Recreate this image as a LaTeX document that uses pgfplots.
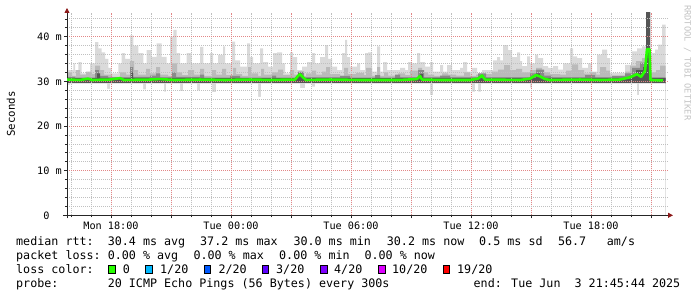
\documentclass[border=0pt]{standalone}
\usepackage{pgfplots}
\pgfplotsset{compat=1.18}
\usepackage{fontspec}
\setmainfont{DejaVu Sans Mono}
\usetikzlibrary{arrows.meta}

\definecolor{smokeA}{RGB}{218,218,218}
\definecolor{smokeB}{RGB}{186,186,186}
\definecolor{smokeC}{RGB}{138,138,138}
\definecolor{smokeD}{RGB}{85,85,85}
\definecolor{medgreen}{HTML}{26FF00}
\definecolor{l1}{HTML}{00B8FF}
\definecolor{l2}{HTML}{0059FF}
\definecolor{l3}{HTML}{5E00FF}
\definecolor{l4}{HTML}{7E00FF}
\definecolor{l10}{HTML}{DD00FF}
\definecolor{l19}{HTML}{FF0000}
\definecolor{mgrid}{RGB}{226,135,135}
\definecolor{ngrid}{RGB}{192,192,192}
\definecolor{arrowred}{RGB}{140,25,25}
\definecolor{wmark}{RGB}{195,195,195}

\newcommand\legfont{\fontsize{11.7bp}{14bp}\selectfont}
\newcommand\axfont{\fontsize{10.2bp}{12bp}\selectfont}

\begin{document}
\begin{tikzpicture}
\path[use as bounding box] (0bp,0bp) rectangle (697bp,-297bp);

\pgfplotsset{
  rrdbase/.style={
    at={(67bp,-215.3bp)}, anchor=south west,
    scale only axis, width=601bp, height=202.3bp,
    xmin=15.8, xmax=45.85, ymin=0, ymax=45.3,
  }
}

\begin{axis}[
  rrdbase,
  axis on top,
  axis x line=bottom, axis y line=left,
  axis line style={draw=black!85, line width=0.8bp},
  x axis line style={-{Triangle[length=5bp,width=5bp,color=arrowred]}, shorten >=-5bp, shorten <=-4bp},
  y axis line style={-{Triangle[length=5bp,width=5bp,color=arrowred]}, shorten >=-5bp, shorten <=-3bp},
  xtick={18,21,24,27,30,33,36,39,42,45},
  xticklabels={Mon 18:00,,Tue 00:00,,Tue 06:00,,Tue 12:00,,Tue 18:00,},
  minor xtick={16,17,...,45},
  ytick={0,10,20,30,40},
  yticklabels={0\hphantom{xx},10 m,20 m,30 m,40 m},
  minor ytick={2,4,...,44},
  grid=both,
  major grid style={draw=mgrid, dash pattern=on 1bp off 1bp, line width=0.65bp},
  minor grid style={draw=ngrid, dash pattern=on 1bp off 1bp, line width=0.65bp},
  tick align=outside,
  major tick length=3bp, minor tick length=2bp,
  tick style={draw=black!85, line width=0.6bp},
  xticklabel style={font=\axfont, inner sep=0pt, anchor=north, yshift=-3bp},
  yticklabel style={font=\axfont, inner sep=0pt, anchor=east, xshift=-2bp},
  /pgf/number format/assume math mode=true,
]
% light smoke: upper envelope (max of pings)
\addplot[const plot, fill=smokeA, draw=none] coordinates {
(15.8,36.3) (15.865,32.5) (16.115,34) (16.2,32.5) (16.365,34.3) (16.535,31.8)
(16.95,34) (17.2,38.8) (17.365,37.4) (17.535,36.5) (17.7,35) (17.865,33)
(18.035,31.8) (18.365,34) (18.535,36.3) (18.7,35) (18.95,40.3) (19.115,38)
(19.365,36.3) (19.615,34) (19.785,37) (20.035,35.5) (20.285,38.5) (20.535,35.5)
(20.785,34) (20.95,40) (21.115,41.5) (21.285,36.3) (21.45,34) (21.785,36.3)
(22.035,34) (22.45,37.7) (22.615,34) (22.95,36.3) (23.1,34) (23.35,35.9)
(23.6,37.8) (23.7,34) (24.05,38.9) (24.2,34.7) (24.45,33.3) (24.8,38.5)
(24.95,35.4) (25.1,34) (25.45,37.4) (25.6,34.3) (25.85,33.3) (26.1,36.3)
(26.3,36.5) (26.55,34) (26.7,31.8) (26.95,36.5) (27.1,35.4) (27.3,32.5)
(27.55,33.3) (27.8,34.3) (28.05,36.3) (28.2,34) (28.45,35.4) (28.7,38.1)
(28.85,35) (29.05,33.3) (29.3,32.5) (29.55,36.3) (29.7,39.3) (29.8,35.4)
(29.95,33.3) (30.3,34) (30.45,32.5) (30.7,36.3) (30.85,36.5) (31.05,32.2)
(31.3,37.8) (31.45,32.2) (31.6,34.3) (31.8,32.5) (32.45,33) (32.7,32.5)
(32.85,34.3) (33.05,34) (33.3,36.3) (33.45,34.3) (33.7,33.3) (33.95,34.3)
(34.1,32.2) (34.45,33.6) (34.6,32.2) (34.8,33.6) (35.05,32.5) (35.45,33)
(35.6,34.3) (35.8,32.2) (36.05,33) (36.3,31.8) (36.55,32.5) (37.1,34.7)
(37.3,35.4) (37.45,34.7) (37.6,38.1) (37.85,37) (38.05,35.4) (38.3,36.5)
(38.45,34.5) (38.55,33.4) (38.8,35.6) (38.95,34) (39.2,36) (39.35,35.2)
(39.6,33.4) (39.85,33) (40.1,33.4) (40.35,32.6) (40.6,34) (40.95,37.4)
(41.1,35.6) (41.3,35.2) (41.55,33) (41.85,34) (42.05,32.2) (42.3,36)
(42.55,37.1) (42.8,35.2) (42.95,31.9) (43.7,33.7) (44.05,36.7) (44.3,37.4)
(44.55,37.8) (44.75,45.5) (44.95,36.3) (45.2,37.1) (45.35,38.2) (45.55,42.7)
(45.73,42.7)
} \closedcycle;
% medium smoke
\addplot[const plot, fill=smokeB, draw=none] coordinates {
(15.8,32.0) (16.05,31.2) (16.25,32.5) (16.45,31.5) (16.75,32.2) (17.05,31.6)
(17.2,33.5) (17.45,32.5) (17.65,31.5) (18.05,31.0) (18.45,32) (18.75,31.5)
(18.95,34.5) (19.15,32.5) (19.35,31.5) (19.75,32.8) (19.95,31.8) (20.25,33.2)
(20.45,31.5) (20.85,31.2) (21.05,34) (21.3,32) (21.55,31.4) (21.85,32.5)
(22.15,31.5) (22.45,32.8) (22.65,31.2) (23.05,32.5) (23.25,31.5) (23.55,32.8)
(23.75,31.4) (24.1,33) (24.25,31.6) (24.55,31.2) (24.85,33.2) (25.0,31.8)
(25.35,31.2) (25.5,32.8) (25.65,31.5) (26.05,32) (26.35,32.6) (26.6,31.4)
(26.95,32.5) (27.15,31.5) (27.45,31.2) (27.75,31.8) (28.05,32.4) (28.25,31.5)
(28.55,32.2) (28.75,33.2) (28.95,31.6) (29.45,31.3) (29.65,33) (29.85,31.6)
(30.25,31.9) (30.65,31.4) (30.75,33) (31.05,31.2) (31.3,33.2) (31.45,31.2)
(31.65,32) (31.85,31.3) (32.35,31.8) (32.7,31.4) (32.95,32.4) (33.35,33)
(33.55,32) (33.85,31.5) (34.15,31.2) (34.55,31.8) (34.85,31.5) (35.25,31.3)
(35.65,32) (35.95,31.2) (36.25,31.5) (36.65,31.6) (37.05,32.2) (37.35,32.6)
(37.65,33.6) (37.95,32.5) (38.25,32.8) (38.55,32) (38.95,32.5) (39.25,33)
(39.55,32) (39.95,31.6) (40.45,31.5) (40.75,32.4) (41.05,33.8) (41.35,32.5)
(41.65,31.7) (41.95,32) (42.25,31.5) (42.45,33.2) (42.75,32.4) (42.95,31.3)
(43.7,32.2) (43.95,33.5) (44.25,34.5) (44.55,35.2) (44.75,45.5) (44.95,32)
(45.25,32.5) (45.45,33.5) (45.73,33.5)
} \closedcycle;
% dark smoke
\addplot[const plot, fill=smokeC, draw=none] coordinates {
(15.8,31.0) (16.2,30.8) (17.2,32.5) (17.4,31.2) (17.85,30.9) (18.95,33.2)
(19.1,31.0) (19.95,31.3) (20.25,31.8) (20.45,30.9) (21.05,32) (21.25,31)
(22.45,31.5) (22.65,30.8) (23.95,31.2) (24.45,30.8) (26.05,31.3) (26.25,30.8)
(27.35,32.2) (27.65,30.9) (29.45,31.2) (29.95,30.8) (31.2,31.4) (31.45,30.8)
(32.2,31.5) (32.45,30.9) (33.35,32.5) (33.65,30.9) (34.45,31.3) (34.95,30.9)
(36.35,31.8) (36.75,30.9) (38.95,31.8) (39.25,32.6) (39.65,31.3) (40.05,30.9)
(41.7,31.4) (42.2,30.9) (43.05,31.2) (43.7,31.8) (44.05,33) (44.45,34.2)
(44.75,45.5) (44.95,30.9) (45.73,30.9)
} \closedcycle;
% darkest smoke
\addplot[const plot, fill=smokeD, draw=none] coordinates {
(15.8,30.8) (17.3,31.8) (17.45,30.8) (19.0,32.0) (19.1,30.8) (27.35,31.8)
(27.55,30.8) (33.45,31.6) (33.6,30.8) (39.25,31.8) (39.45,30.8) (43.95,31.2)
(44.25,32.5) (44.6,33.2) (44.75,45.5) (44.95,30.7) (45.73,30.7)
} \closedcycle;
% light smoke below the dense part
\addplot[const plot, fill=smokeA, draw=none] coordinates {
(15.8,29.6) (45.73,29.6)
} \closedcycle;
% lower envelope (min of pings): white below
\addplot[const plot, fill=white, draw=none] coordinates {
(15.8,29.2) (15.95,29.5) (17.8,28.3) (17.95,29.5) (19.6,28.2) (19.75,29.5)
(20.65,27.7) (20.75,29.5) (21.45,27.8) (21.6,29.5) (22.3,28) (22.45,29.5)
(23.05,27.6) (23.25,29.5) (25.35,26.5) (25.5,29.5) (27.45,28.5) (27.7,29.5)
(28.05,28.8) (28.2,29.5) (33.95,26.9) (34.1,29.5) (36.05,27.7) (36.2,29.5)
(36.35,27.7) (36.5,29.5) (38.95,28.6) (39.05,29.5) (44.3,26.9) (44.4,29.5)
(45.73,29.5)
} \closedcycle;
\end{axis}

\begin{axis}[rrdbase, hide axis]
% median rtt
\addplot[draw=medgreen, line width=2.6bp, line join=round] coordinates {
(15.8,30.4) (16.45,30.3) (16.85,30.6) (17.05,30.3) (17.95,30.4) (18.45,30.7)
(18.65,30.3) (19.95,30.4) (20.45,30.5) (21.2,30.3) (22.45,30.4) (23.7,30.3)
(24.95,30.4) (25.95,30.3) (27.2,30.4) (27.35,31.2) (27.45,31.6) (27.6,30.9)
(27.75,30.3) (28.95,30.4) (30.45,30.3) (32.45,30.3) (33.3,30.5) (33.45,31.2)
(33.55,30.4) (34.45,30.3) (35.95,30.3) (36.35,30.6) (36.55,31.3) (36.7,30.4)
(38.45,30.3) (38.95,30.6) (39.25,31.4) (39.45,31.1) (39.7,30.5) (39.95,30.3)
(41.45,30.4) (42.45,30.3) (43.45,30.4) (43.95,30.9) (44.3,31.6) (44.5,31.0)
(44.7,32.3) (44.8,37.2) (44.925,37.2) (44.975,30.3) (45.6,30.2)
};
\end{axis}

% y label and watermark
\node[rotate=90, anchor=center, inner sep=0pt, font=\fontsize{10.7bp}{12bp}\selectfont] at (11bp,-114bp) {Seconds};
\node[rotate=-90, anchor=west, inner sep=0pt, font=\fontsize{8.7bp}{10bp}\selectfont, text=wmark] at (687.5bp,-5bp) {RRDTOOL / TOBI OETIKER};

% legend lines
\begin{scope}[every node/.style={anchor=base west, inner sep=0pt, font=\legfont}]
\node at (16bp,-245bp) {median rtt:};
\node at (107.6bp,-245bp) {30.4 ms avg};
\node at (200bp,-245bp) {37.2 ms max};
\node at (293.3bp,-245bp) {30.0 ms min};
\node at (386.7bp,-245bp) {30.2 ms now};
\node at (479bp,-245bp) {0.5 ms sd};
\node at (557.8bp,-245bp) {56.7};
\node at (606.7bp,-245bp) {am/s};

\node at (16bp,-259bp) {packet loss:};
\node at (107.6bp,-259bp) {0.00 \% avg};
\node at (193.3bp,-259bp) {0.00 \% max};
\node at (279bp,-259bp) {0.00 \% min};
\node at (364.4bp,-259bp) {0.00 \% now};

\node at (16bp,-273bp) {loss color:};
\node at (122.7bp,-273bp) {0};
\node at (160bp,-273bp) {1/20};
\node at (218.3bp,-273bp) {2/20};
\node at (276bp,-273bp) {3/20};
\node at (334bp,-273bp) {4/20};
\node at (392bp,-273bp) {10/20};
\node at (457bp,-273bp) {19/20};

\node at (16bp,-287bp) {probe:};
\node at (107.6bp,-287bp) {20 ICMP Echo Pings (56 Bytes) every 300s};
\node[anchor=base east] at (680.5bp,-287bp) {end: Tue Jun\ \ 3 21:45:44 2025};
\end{scope}

\foreach \xx/\cc in {108.9/medgreen,145.8/l1,204/l2,262.2/l3,320.5/l4,378.5/l10,443/l19}{
  \draw[fill=\cc, draw=black, line width=0.9bp] (\xx bp,-273bp) rectangle ++(6.5bp,7.5bp);
}
\end{tikzpicture}
\end{document}
